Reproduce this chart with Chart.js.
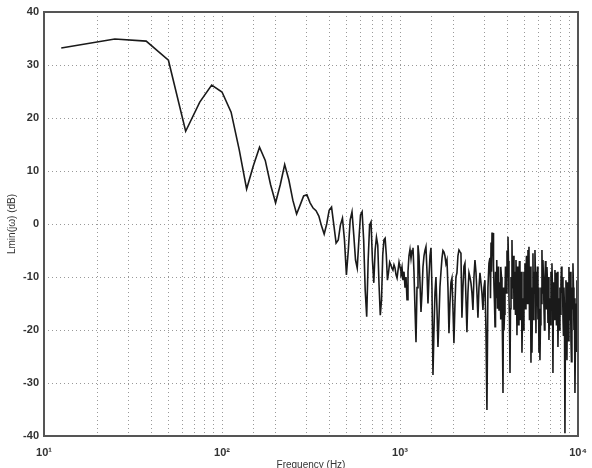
<!DOCTYPE html>
<html>
<head>
<meta charset="utf-8">
<script src="https://cdn.jsdelivr.net/npm/chart.js@4/dist/chart.umd.min.js"></script>
<style>
  body { margin: 0; background: #fff; }
  #wrap { width: 592px; height: 468px; position: relative; }
</style>
</head>
<body>
<div id="wrap"><canvas id="chart_lmin"></canvas></div>
<script>
// frequency axis (Hz) and level (dB)
const freqHz = [
    12.5, 25, 37.5, 50, 62.5, 75, 87.5, 100, 112.5, 125, 137.5, 150, 162.5, 175, 187.5, 200,
    212.5, 225, 237.5, 250, 262.5, 275, 287.5, 300, 312.5, 325, 337.5, 350, 362.5, 375, 387.5, 400,
    412.5, 425, 437.5, 450, 462.5, 475, 487.5, 500, 512.5, 525, 537.5, 550, 562.5, 575, 587.5, 600,
    612.5, 625, 637.5, 650, 662.5, 675, 687.5, 700, 712.5, 725, 737.5, 750, 762.5, 775, 787.5, 800,
    812.5, 825, 837.5, 850, 862.5, 875, 887.5, 900, 912.5, 925, 937.5, 950, 962.5, 975, 987.5, 1000,
    1013, 1026, 1039, 1053, 1067, 1081, 1095, 1109, 1123, 1138, 1153, 1168, 1183, 1198, 1214, 1230,
    1246, 1262, 1278, 1295, 1312, 1329, 1346, 1364, 1381, 1399, 1418, 1436, 1455, 1474, 1493, 1512,
    1532, 1552, 1572, 1592, 1613, 1634, 1655, 1677, 1699, 1721, 1743, 1766, 1789, 1812, 1836, 1860,
    1884, 1908, 1933, 1958, 1984, 2009, 2036, 2062, 2089, 2116, 2144, 2171, 2200, 2228, 2257, 2287,
    2317, 2347, 2377, 2408, 2440, 2471, 2504, 2536, 2569, 2603, 2637, 2671, 2706, 2741, 2777, 2813,
    2849, 2886, 2924, 2962, 3000, 3040, 3079, 3119, 3160, 3201, 3246, 3288, 3331, 3374, 3418, 3462,
    3507, 3553, 3599, 3646, 3693, 3741, 3790, 3839, 3889, 3940, 3991, 4043, 4095, 4149, 4203, 4257,
    4313, 4369, 4425, 4483, 4541, 4600, 4660, 4721, 4782, 4844, 4907, 4971, 5036, 5101, 5168, 5235,
    5303, 5372, 5442, 5513, 5584, 5657, 5731, 5805, 5881, 5957, 6035, 6113, 6193, 6273, 6355, 6438,
    6521, 6606, 6692, 6779, 6868, 6957, 7048, 7139, 7232, 7326, 7422, 7518, 7616, 7715, 7816, 7917,
    8021, 8125, 8231, 8338, 8447, 8556, 8668, 8781, 8895, 9011, 9128, 9247, 9367, 9489, 9613, 9738,
    9864, 9993
];
const levelDb = [
    33.2, 34.9, 34.5, 30.9, 17.5, 23.0, 26.2, 24.9, 21.1, 14, 6.6, 11, 14.5, 12, 7.4, 4.0,
    7.4, 11.2, 8.3, 4.5, 1.9, 3.6, 5.3, 5.5, 4, 3, 2.5, 1.5, -0.4, -1.9, 0, 2.6,
    3.2, -0.2, -3.6, -3, -0.2, 1.1, -3, -9.6, -4.9, 0.8, 2.3, -2.1, -6.8, -8.3, -3, 1.7,
    2.3, -3, -12.5, -17.5, -6.8, -0.2, 0.4, -6.8, -11.1, -4.9, -2.5, -4, -11.5, -17.2, -14.3, -5.8,
    -3, -2.7, -5.8, -10.6, -9.1, -7.2, -7.7, -8.3, -8.7, -7.7, -8.3, -9.6, -10.2, -8.7, -7.2, -8.1,
    -9, -8.1, -10.6, -9, -12, -10, -14.3, -9, -6, -4.8, -6.5, -5, -4.5, -9, -16, -22.3,
    -12, -4.0, -6, -11, -16.6, -13, -8.1, -6, -5, -4.3, -9, -15, -10, -6, -4.5, -12,
    -28.5, -20, -13, -10, -16, -23.2, -18, -11.9, -9, -6.5, -5, -5.3, -6, -7.5, -6.8, -12,
    -20.6, -15, -11, -10.2, -16, -22.5, -15, -10, -9.2, -6, -4.9, -5.2, -5.5, -17.7, -12, -8,
    -7.4, -14, -20.4, -13, -9.2, -10, -11.1, -13, -16.2, -10, -6.8, -9, -13, -17.7, -12, -9.2,
    -11, -13, -16.2, -12, -10.6, -20, -35.1, -12, -7.4, -6.4, -3.5, -1.6, -1.7, -12, -19.4, -11,
    -6.8, -11, -16.2, -11, -8.1, -14, -31.9, -20, -13, -11.9, -5, -2.4, -14, -28.1, -10, -3,
    -9, -16.2, -11, -6.8, -21, -15, -10, -13, -11.1, -24.3, -14, -9, -7.4, -10, -13, -4.9,
    -4.3, -12, -26.2, -24.3, -5.5, -9, -4.9, -20.6, -14, -18, -24.3, -25.7, -12, -4.9, -6.8, -15.7,
    -11, -13, -8.1, -18.7, -21.9, -14, -9, -7.4, -28.1, -16, -8.7, -9.2, -15, -23.2, -14, -12,
    -11.1, -13, -17.5, -12, -39.5, -10.6, -25.7, -17.5, -8.1, -14, -21.9, -12, -7.4, -20, -31.9, -15,
    -10.6, -14.3
];
// extra samples inside the dense band above ~3 kHz
const bandHz = [
    3224, 3267, 3310, 3352, 3396, 3440, 3485, 3530, 3576, 3622, 3669, 3717, 3765, 3814, 3864, 3914,
    3965, 4017, 4069, 4122, 4176, 4230, 4285, 4341, 4397, 4454, 4512, 4570, 4630, 4690, 4751, 4813,
    4875, 4939, 5003, 5068, 5134, 5201, 5269, 5337, 5407, 5477, 5548, 5620, 5694, 5768, 5843, 5919,
    5996, 6074, 6153, 6233, 6314, 6396, 6479, 6563, 6649, 6735, 6823, 6912, 7002, 7093, 7185, 7279,
    7374, 7470, 7567, 7665, 7765, 7866, 7969, 8073, 8178, 8284, 8392, 8501, 8612, 8724, 8838, 8953,
    9069, 9187, 9307, 9428, 9551, 9675, 9801, 9928
];
const bandDb = [
    -14, -9, -6, -8, -15, -9, -14, -16, -8, -12, -18, -10, -22, -12, -17, -8,
    -13, -10, -7, -18, -16, -14, -12, -6, -9, -17, -11, -8, -19, -7, -18, -9,
    -18, -20, -14, -16, -6, -15, -12, -18, -8, -12, -15, -18, -13, -10, -9, -8,
    -12, -16, -19, -15, -13, -10, -20, -7, -16, -11, -10, -17, -19, -13, -12, -11,
    -18, -14, -19, -9, -16, -20, -17, -8, -10, -21, -16, -18, -14, -11, -22, -18,
    -9, -26, -16, -12, -14, -22, -24, -20
];
const decadeLabels = { 10: '10\u00b9', 100: '10\u00b2', 1000: '10\u00b3', 10000: '10\u2074' };
const yTicks = [-40, -30, -20, -10, 0, 10, 20, 30, 40];

const points = freqHz.map((f, i) => ({ x: f, y: levelDb[i] }))
    .concat(bandHz.map((f, i) => ({ x: f, y: bandDb[i] })))
    .sort((a, b) => a.x - b.x);

// solid box around the plot area, like the matlab axes
const frameBox = {
    id: 'frameBox',
    afterDraw(chart) {
        const a = chart.chartArea;
        const ctx = chart.ctx;
        ctx.save();
        ctx.strokeStyle = '#555';
        ctx.lineWidth = 2;
        ctx.strokeRect(a.left, a.top, a.right - a.left, a.bottom - a.top);
        ctx.restore();
    }
};

const tickFont = { family: 'Liberation Sans, Arial, sans-serif', size: 11, weight: 'bold' };
const titleFont = { family: 'Liberation Sans, Arial, sans-serif', size: 10 };

new Chart(document.getElementById('chart_lmin').getContext('2d'), {
    type: 'line',
    data: {
        datasets: [{
            data: points,
            borderColor: '#1a1a1a',
            borderWidth: 1.6,
            pointRadius: 0,
            tension: 0,
            fill: false
        }]
    },
    options: {
        responsive: true,
        maintainAspectRatio: false,
        animation: false,
        layout: { padding: { top: 12, right: 14, left: 6, bottom: 0 } },
        plugins: { legend: { display: false }, tooltip: { enabled: false } },
        scales: {
            x: {
                type: 'logarithmic',
                min: 10,
                max: 10000,
                afterFit: s => { s.height = 32; s.paddingLeft = 0; s.paddingRight = 0; },
                grid: { color: '#999', lineWidth: 1, drawTicks: false },
                border: { display: false, dash: [1, 3] },
                ticks: {
                    autoSkip: false,
                    maxRotation: 0,
                    padding: 10,
                    color: '#333',
                    font: tickFont,
                    callback: v => decadeLabels[v] || ''
                },
                title: {
                    display: true,
                    text: 'Frequency (Hz)',
                    color: '#333',
                    font: titleFont,
                    padding: { top: 0, bottom: -3 }
                }
            },
            y: {
                min: -40,
                max: 40,
                afterFit: s => { s.width = 38; },
                afterBuildTicks: s => { s.ticks = yTicks.map(v => ({ value: v })); },
                grid: { color: '#999', lineWidth: 1, drawTicks: false },
                border: { display: false, dash: [1, 3] },
                ticks: { padding: 5, color: '#333', font: tickFont },
                title: {
                    display: true,
                    text: 'Lmin(j\u03c9) (dB)',
                    color: '#333',
                    font: titleFont,
                    padding: { top: 0, bottom: 0 }
                }
            }
        }
    },
    plugins: [frameBox]
});
</script>
</body>
</html>
